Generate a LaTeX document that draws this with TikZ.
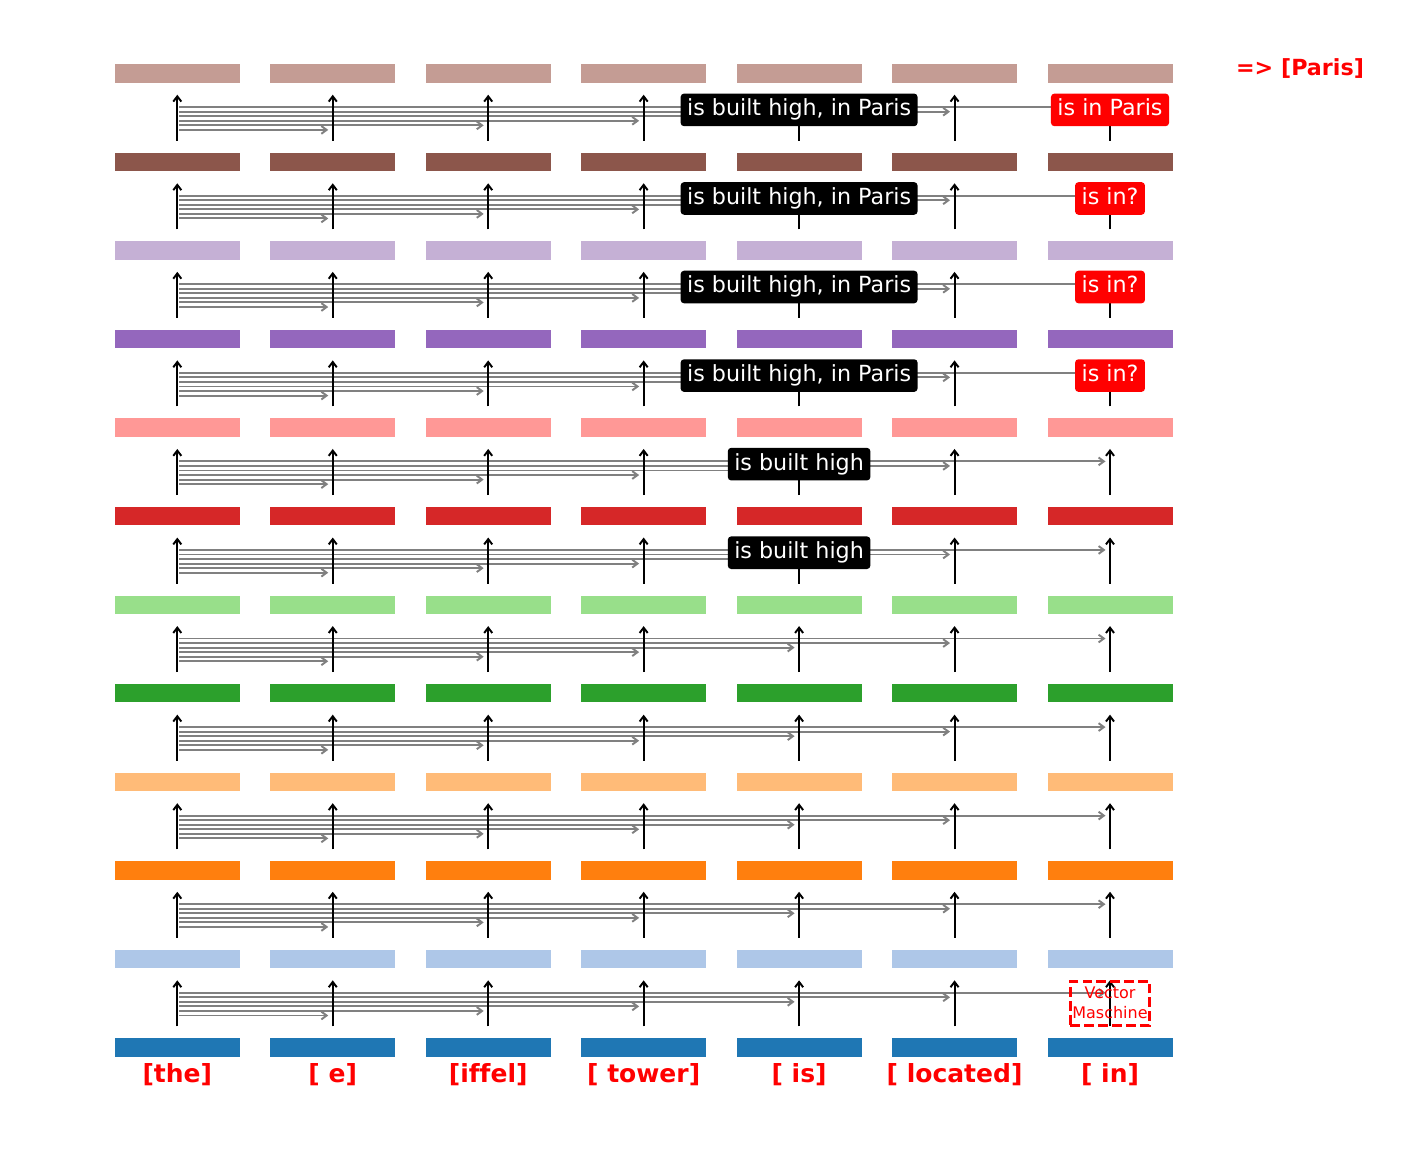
\documentclass[tikz,border=0pt]{standalone}
\usepackage{fontspec}
\setmainfont[Ligatures=NoCommon]{DejaVu Sans}
\usetikzlibrary{arrows.meta,calc}

% layer colours (bottom to top)
\definecolor{lay0}{HTML}{1F77B4}
\definecolor{lay1}{HTML}{AEC7E8}
\definecolor{lay2}{HTML}{FF7F0E}
\definecolor{lay3}{HTML}{FFBB78}
\definecolor{lay4}{HTML}{2CA02C}
\definecolor{lay5}{HTML}{98DF8A}
\definecolor{lay6}{HTML}{D62728}
\definecolor{lay7}{HTML}{FF9896}
\definecolor{lay8}{HTML}{9467BD}
\definecolor{lay9}{HTML}{C5B0D5}
\definecolor{lay10}{HTML}{8C564B}
\definecolor{lay11}{HTML}{C49C94}

\begin{document}
\begin{tikzpicture}[
            x=0.72pt, y=-0.72pt,
            bar/.style={rectangle,inner sep=0pt,minimum width=90pt,minimum height=13.2pt},
            vup/.style={-{Straight Barb[length=3.8pt,width=5.8pt]},line width=1.4pt,black,
                        shorten <=8.4pt,shorten >=8.6pt},
            attn/.style={-{Straight Barb[length=3.8pt,width=5.6pt]},line width=1.4pt,gray},
            sumbox/.style={rectangle,rounded corners=2.5pt,fill=black,text=white,
                           font=\fontsize{16}{19}\selectfont,inner xsep=4.7pt,inner ysep=4pt,
                           text height=12pt,text depth=3.5pt},
            ansbox/.style={sumbox,fill=red},
            tok/.style={text=red,font=\fontsize{18}{21}\selectfont\bfseries},
            vmbox/.style={draw=red,dash pattern=on 7pt off 3pt,line width=1.9pt,text=red,
                          align=center,font=\fontsize{11.5}{14.4}\selectfont,
                          minimum width=57pt,minimum height=31.7pt,inner sep=0pt}
        ]
        \useasboundingbox (0,0) rectangle (1410,1149);
        % layers of token vectors
        \foreach \r in {0,...,11}
            \foreach \c in {1,...,7}
                \node[bar,fill=lay\r] (b\r-\c) at ({177.3+(\c-1)*155.45},{1047.5-\r*88.56}) {};
        % attention from the first token
        \foreach \r in {0,...,10}
            \foreach \j in {2,...,7}
                \draw[attn] ($(b\r-1.center)+(2,{-32-(\j-2)*4.55})$)
                    -- ($(b\r-\j.center)+(-4.5,{-32-(\j-2)*4.55})$);
        % residual stream
        \foreach \r [evaluate=\r as \s using int(\r+1)] in {0,...,10}
            \foreach \c in {1,...,7}
                \draw[vup] (b\r-\c.north) -- (b\s-\c.south);
        % tokens
        \node[tok] (t1) at ($(b0-1.center)+(0,27.5)$) {[the]};
        \node[tok] (t2) at ($(b0-2.center)+(0,27.5)$) {[ e]};
        \node[tok] (t3) at ($(b0-3.center)+(0,27.5)$) {[iffel]};
        \node[tok] (t4) at ($(b0-4.center)+(0,27.5)$) {[ tower]};
        \node[tok] (t5) at ($(b0-5.center)+(0,27.5)$) {[ is]};
        \node[tok] (t6) at ($(b0-6.center)+(0,27.5)$) {[ located]};
        \node[tok] (t7) at ($(b0-7.center)+(0,27.5)$) {[ in]};
        \node[vmbox] (vm) at ($(b0-7.north)!0.5!(b1-7.south)$) {Vector\\Maschine};
        % what the [ is] position holds
        \node[sumbox] (s5) at ($(b5-5.center)+(0,-52)$) {is built high};
        \node[sumbox] (s6) at ($(b6-5.center)+(0,-52)$) {is built high};
        \node[sumbox] (s7) at ($(b7-5.center)+(0,-52)$) {is built high, in Paris};
        \node[sumbox] (s8) at ($(b8-5.center)+(0,-52)$) {is built high, in Paris};
        \node[sumbox] (s9) at ($(b9-5.center)+(0,-52)$) {is built high, in Paris};
        \node[sumbox] (s10) at ($(b10-5.center)+(0,-52)$) {is built high, in Paris};
        % what the [ in] position holds
        \node[ansbox] (a7) at ($(b7-7.center)+(0,-52)$) {is in?};
        \node[ansbox] (a8) at ($(b8-7.center)+(0,-52)$) {is in?};
        \node[ansbox] (a9) at ($(b9-7.center)+(0,-52)$) {is in?};
        \node[ansbox] (a10) at ($(b10-7.center)+(0,-52)$) {is in Paris};
        \node[text=red,font=\fontsize{16}{19}\selectfont\bfseries] (pred) at (1300,69) {=> [Paris]};
        \end{tikzpicture}
\end{document}
